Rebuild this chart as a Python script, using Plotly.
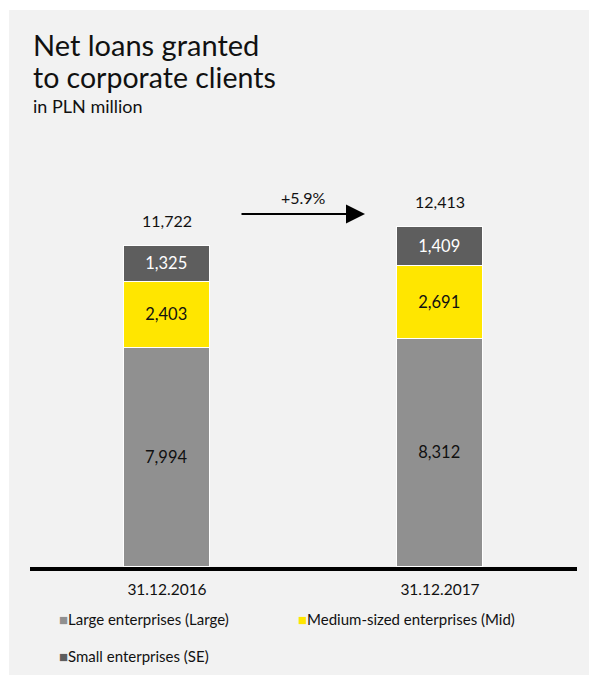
import plotly.graph_objects as go

categories = ["31.12.2016", "31.12.2017"]
large = [7994, 8312]
mid = [2403, 2691]
small = [1325, 1409]
totals = [11722, 12413]
growth_label = "+5.9%"
series_names = ["Large enterprises (Large)", "Medium-sized enterprises (Mid)", "Small enterprises (SE)"]
colors = ["#909090", "#FFE600", "#5E5E5E"]

FONT = "Lato, 'Noto Sans', sans-serif"
OFF = 8  # page body margin
W, H = 597 - OFF, 675 - OFF

def px(x):
    return (x - OFF) / W

def py(y):
    return 1 - (y - OFF) / H

fig = go.Figure()
for vals, name, col, tcol in zip([large, mid, small], series_names, colors, ["#111111", "#111111", "#ffffff"]):
    fig.add_trace(go.Bar(
        x=categories, y=vals, name=name,
        marker=dict(color=col, line=dict(color="white", width=1.5)),
        text=[f"{v:,}" for v in vals], textposition="inside",
        insidetextanchor="middle", textangle=0,
        textfont=dict(family=FONT, size=16.5, color=tcol),
        width=0.318, showlegend=False,
    ))

# totals above bars
for c, t in zip(categories, totals):
    fig.add_annotation(x=c, y=t, text=f"{t:,}", showarrow=False, yanchor="bottom",
                       yshift=14, font=dict(family=FONT, size=16, color="#111111"))

# growth arrow
fig.add_annotation(x=px(365), y=py(214), ax=-125, ay=0, xref="paper", yref="paper",
                   axref="pixel", ayref="pixel", showarrow=True, arrowhead=2,
                   arrowsize=1.9, arrowwidth=2, arrowcolor="#000000", text="")
fig.add_annotation(x=px(303), y=py(197), xref="paper", yref="paper", text=growth_label,
                   showarrow=False, xanchor="center", yanchor="middle",
                   font=dict(family=FONT, size=16, color="#111111"))

# titles
fig.add_annotation(x=px(31), y=py(45), xref="paper", yref="paper", text="Net loans granted",
                   showarrow=False, xanchor="left", yanchor="middle",
                   font=dict(family=FONT, size=29, color="#111111"))
fig.add_annotation(x=px(31), y=py(77), xref="paper", yref="paper", text="to corporate clients",
                   showarrow=False, xanchor="left", yanchor="middle",
                   font=dict(family=FONT, size=28.5, color="#111111"))
fig.add_annotation(x=px(31), y=py(106), xref="paper", yref="paper", text="in PLN million",
                   showarrow=False, xanchor="left", yanchor="middle",
                   font=dict(family=FONT, size=18, color="#111111"))

# custom legend
leg_pos = [(57, 619), (296, 619), (57, 656)]
for (lx, ly), name, col in zip(leg_pos, series_names, colors):
    fig.add_annotation(x=px(lx), y=py(ly), xref="paper", yref="paper",
                       text=f"<span style='color:{col}'>■</span>{name}",
                       showarrow=False, xanchor="left", yanchor="middle",
                       font=dict(family=FONT, size=15, color="#111111"))

# background panel
fig.add_shape(type="rect", xref="paper", yref="paper", x0=px(9), x1=1, y0=0, y1=py(10),
              fillcolor="#F2F2F2", line=dict(width=0), layer="below")
# baseline
fig.add_shape(type="line", xref="paper", yref="paper", x0=px(30), x1=px(577),
              y0=py(569), y1=py(569), line=dict(color="#000000", width=4), layer="above")

bar_base = 567
scale = (bar_base - 246) / 11722  # px per unit
top_px = 130
y_top = (bar_base - top_px) / scale
c0, c1 = 167 - OFF, 440 - OFF
unit = c1 - c0

fig.update_layout(
    width=W, height=H, margin=dict(l=0, r=0, t=0, b=0),
    paper_bgcolor="white", plot_bgcolor="rgba(0,0,0,0)",
    barmode="stack", bargap=0,
    font=dict(family=FONT, color="#111111"),
    xaxis=dict(domain=[0, 1], range=[-c0 / unit, (W - c0) / unit], showgrid=False,
               zeroline=False, showline=False, ticks="", ticklabelstandoff=11,
               tickfont=dict(family=FONT, size=15.5, color="#111111")),
    yaxis=dict(domain=[py(bar_base), py(top_px)], range=[0, y_top], visible=False,
               showgrid=False, zeroline=False),
)

fig.write_html("out.html")
